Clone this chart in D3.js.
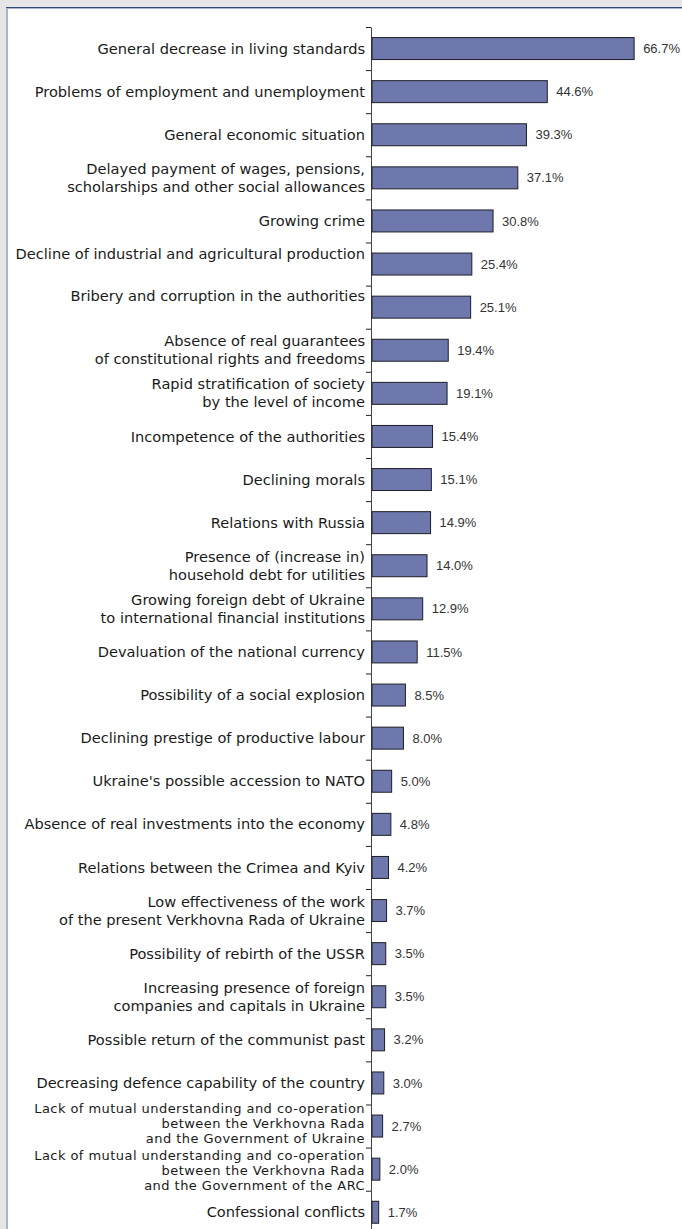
<!DOCTYPE html>
<html>
<head>
<meta charset="utf-8">
<script src="https://cdn.jsdelivr.net/npm/d3@7"></script>
<style>
  html, body { margin: 0; padding: 0; background: #e6e6e6; }
  svg { display: block; }
</style>
</head>
<body>
<svg id="chart" width="682" height="1229"></svg>
<script>
// Problems of greatest concern to citizens, % of respondents
const categories = [
  ["General decrease in living standards"],
  ["Problems of employment and unemployment"],
  ["General economic situation"],
  ["Delayed payment of wages, pensions,", "scholarships and other social allowances"],
  ["Growing crime"],
  ["Decline of industrial and agricultural production"],
  ["Bribery and corruption in the authorities"],
  ["Absence of real guarantees", "of constitutional rights and freedoms"],
  ["Rapid stratification of society", "by the level of income"],
  ["Incompetence of the authorities"],
  ["Declining morals"],
  ["Relations with Russia"],
  ["Presence of (increase in)", "household debt for utilities"],
  ["Growing foreign debt of Ukraine", "to international financial institutions"],
  ["Devaluation of the national currency"],
  ["Possibility of a social explosion"],
  ["Declining prestige of productive labour"],
  ["Ukraine's possible accession to NATO"],
  ["Absence of real investments into the economy"],
  ["Relations between the Crimea and Kyiv"],
  ["Low effectiveness of the work", "of the present Verkhovna Rada of Ukraine"],
  ["Possibility of rebirth of the USSR"],
  ["Increasing presence of foreign", "companies and capitals in Ukraine"],
  ["Possible return of the communist past"],
  ["Decreasing defence capability of the country"],
  ["Lack of mutual understanding and co-operation", "between the Verkhovna Rada", "and the Government of Ukraine"],
  ["Lack of mutual understanding and co-operation", "between the Verkhovna Rada", "and the Government of the ARC"],
  ["Confessional conflicts"]
];
const values = [
  66.7, 44.6, 39.3, 37.1, 30.8, 25.4, 25.1, 19.4, 19.1, 15.4,
  15.1, 14.9, 14.0, 12.9, 11.5, 8.5, 8.0, 5.0, 4.8, 4.2,
  3.7, 3.5, 3.5, 3.2, 3.0, 2.7, 2.0, 1.7
];

const svg = d3.select("#chart");
const W = 682, H = 1229;
const labelFont = "'DejaVu Sans', Verdana, sans-serif";
const valueFont = "'Liberation Sans', Arial, sans-serif";

// panel with frame
svg.append("rect").attr("x", 0).attr("y", 0).attr("width", W).attr("height", H).attr("fill", "#e6e6e6");
svg.append("rect").attr("x", 6).attr("y", 7).attr("width", W).attr("height", H).attr("fill", "#ffffff");
svg.append("rect").attr("x", 6).attr("y", 7).attr("width", 2).attr("height", H).attr("fill", "#aab5cf");
svg.append("rect").attr("x", 6).attr("y", 7).attr("width", W).attr("height", 1).attr("fill", "#33497a");
svg.append("rect").attr("x", 7).attr("y", 8).attr("width", W).attr("height", 1).attr("fill", "#aab5cf");

const x0 = 372;
const x = d3.scaleLinear().domain([0, 70]).range([x0, x0 + 70 * 3.93]);

const ids = d3.range(categories.length);
const y = d3.scaleBand().domain(ids).range([27, 27 + categories.length * 43.1]).paddingInner(0.49).paddingOuter(0.245);
const yEdge = d3.scaleLinear().domain([0, categories.length]).range(y.range());

// axis with ticks at category boundaries
const axis = svg.append("g")
  .attr("transform", `translate(${x0 - 1},0)`)
  .call(d3.axisLeft(yEdge).tickValues(d3.range(categories.length + 1)).tickSize(5).tickSizeOuter(0).tickFormat(""));
axis.select(".domain").attr("stroke", "#444");
axis.selectAll(".tick line").attr("stroke", "#222");

// bars
svg.append("g").selectAll("rect")
  .data(ids)
  .join("rect")
  .attr("x", x(0))
  .attr("y", i => y(i))
  .attr("width", i => x(values[i]) - x(0))
  .attr("height", y.bandwidth())
  .attr("fill", "#6f78ad")
  .attr("stroke", "#1e1e28")
  .attr("stroke-width", 1);

// value labels
svg.append("g").selectAll("text")
  .data(ids)
  .join("text")
  .attr("x", i => x(values[i]) + 9)
  .attr("y", i => y(i) + y.bandwidth() / 2)
  .attr("dy", "0.35em")
  .attr("font-family", valueFont)
  .attr("font-size", 13)
  .attr("fill", "#333")
  .text(i => values[i].toFixed(1) + "%");

// category labels; a few sit slightly off their band centre
const labelShift = { 5: -10, 6: -11, 25: -3, 26: 1 };
const lab = svg.append("g").selectAll("text")
  .data(ids)
  .join("text")
  .attr("text-anchor", "end")
  .attr("font-family", labelFont)
  .attr("font-size", i => categories[i].length === 3 ? 13 : 14.6)
  .attr("letter-spacing", i => categories[i].length === 3 ? 0.45 : 0)
  .attr("fill", "#1a1a1a");
lab.each(function(i) {
  const lines = categories[i];
  const lh = lines.length === 3 ? 15 : 18;
  const cy = y(i) + y.bandwidth() / 2 + (labelShift[i] || 0);
  const top = cy - (lines.length - 1) * lh / 2;
  d3.select(this).selectAll("tspan")
    .data(lines)
    .join("tspan")
    .attr("x", 365)
    .attr("y", (d, k) => top + k * lh)
    .attr("dy", "0.35em")
    .text(d => d);
});
</script>
</body>
</html>
